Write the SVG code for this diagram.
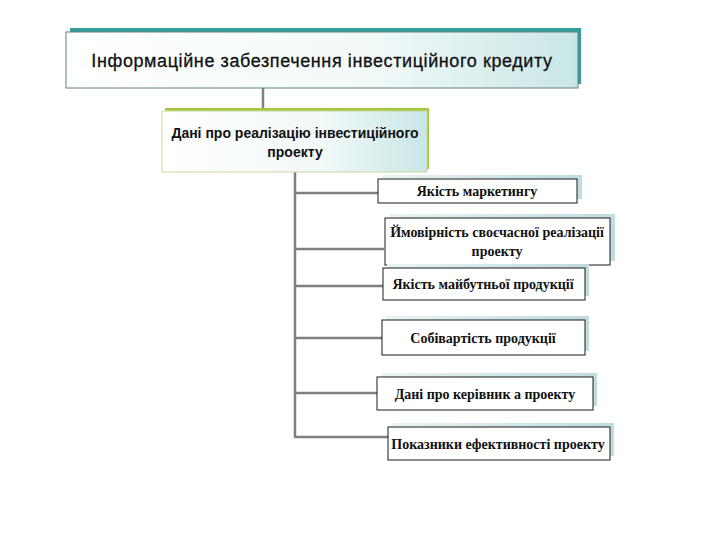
<svg xmlns="http://www.w3.org/2000/svg" width="720" height="540" viewBox="0 0 720 540">
<defs>
<linearGradient id="gTop" x1="0" y1="0" x2="1" y2="0">
<stop offset="0" stop-color="#ffffff"/>
<stop offset="0.6" stop-color="#f2f9f9"/>
<stop offset="1" stop-color="#c9e6e6"/>
</linearGradient>
<linearGradient id="gSh" x1="0" y1="0" x2="1" y2="0">
<stop offset="0" stop-color="#eaf4f5"/>
<stop offset="1" stop-color="#bfdcdf"/>
</linearGradient>
<style>
.conn{stroke:#7f7f7f;stroke-width:2.5;fill:none}
.child{fill:#ffffff;stroke:#1a1a1a;stroke-width:1}
.csh{fill:url(#gSh)}
.ct{font-family:"Liberation Serif","Times New Roman",serif;font-weight:bold;font-size:14px;fill:#111;text-anchor:middle}
.st{font-family:"Liberation Sans",Arial,sans-serif;font-weight:bold;font-size:14px;fill:#111;text-anchor:middle}
</style>
</defs>
<rect width="720" height="540" fill="#ffffff"/>
<g id="connectors">
<line class="conn" x1="263" y1="88" x2="263" y2="109"/>
<line class="conn" x1="295" y1="172" x2="295" y2="438"/>
<line class="conn" x1="295" y1="193" x2="378" y2="193"/>
<line class="conn" x1="295" y1="249" x2="384" y2="249"/>
<line class="conn" x1="295" y1="286" x2="383" y2="286"/>
<line class="conn" x1="295" y1="338" x2="382" y2="338"/>
<line class="conn" x1="295" y1="393" x2="377" y2="393"/>
<line class="conn" x1="295" y1="437" x2="388" y2="437"/>
</g>
<g id="root">
<rect x="70" y="28" width="511" height="56" fill="#2f9e9c"/>
<rect x="66" y="32" width="512" height="56" fill="url(#gTop)" stroke="#6b7f80" stroke-width="1"/>
<text x="322" y="67" font-family="'Liberation Sans',Arial,sans-serif" font-size="18" letter-spacing="0.6" fill="#111" stroke="#111" stroke-width="0.3" text-anchor="middle">Інформаційне забезпечення інвестиційного кредиту</text>
</g>
<g id="data">
<rect x="165" y="108" width="264" height="61" fill="#a3c73d"/>
<rect x="162" y="111" width="265" height="61" fill="url(#gTop)" stroke="#c9d8a0" stroke-width="1"/>
<text class="st" x="295" y="138">Дані про реалізацію інвестиційного</text>
<text class="st" x="295" y="157">проекту</text>
</g>
<g id="c1">
<rect class="csh" x="382" y="175" width="200" height="24"/>
<rect class="child" x="378" y="179" width="199" height="24"/>
<text class="ct" x="477" y="196">Якість маркетингу</text>
</g>
<g id="c2">
<rect class="csh" x="389" y="214" width="226" height="47"/>
<rect class="child" x="385" y="218" width="225" height="47"/>
<text class="ct" x="497" y="237">Ймовірність своєчасної реалізації</text>
<text class="ct" x="497" y="256">проекту</text>
</g>
<g id="c3">
<rect class="csh" x="387" y="264" width="202" height="32"/>
<rect class="child" x="383" y="268" width="202" height="32"/>
<text class="ct" x="483" y="289">Якість майбутньої  продукції</text>
</g>
<g id="c4">
<rect class="csh" x="386" y="316" width="203" height="35"/>
<rect class="child" x="382" y="320" width="203" height="35"/>
<text class="ct" x="483" y="343">Собівартість продукції</text>
</g>
<g id="c5">
<rect class="csh" x="381" y="373" width="216" height="33"/>
<rect class="child" x="377" y="377" width="216" height="33"/>
<text class="ct" x="485" y="399">Дані про керівник а проекту</text>
</g>
<g id="c6">
<rect class="csh" x="392" y="423" width="222" height="33"/>
<rect class="child" x="388" y="427" width="222" height="33"/>
<text class="ct" x="498" y="449">Показники ефективності проекту</text>
</g>
</svg>
